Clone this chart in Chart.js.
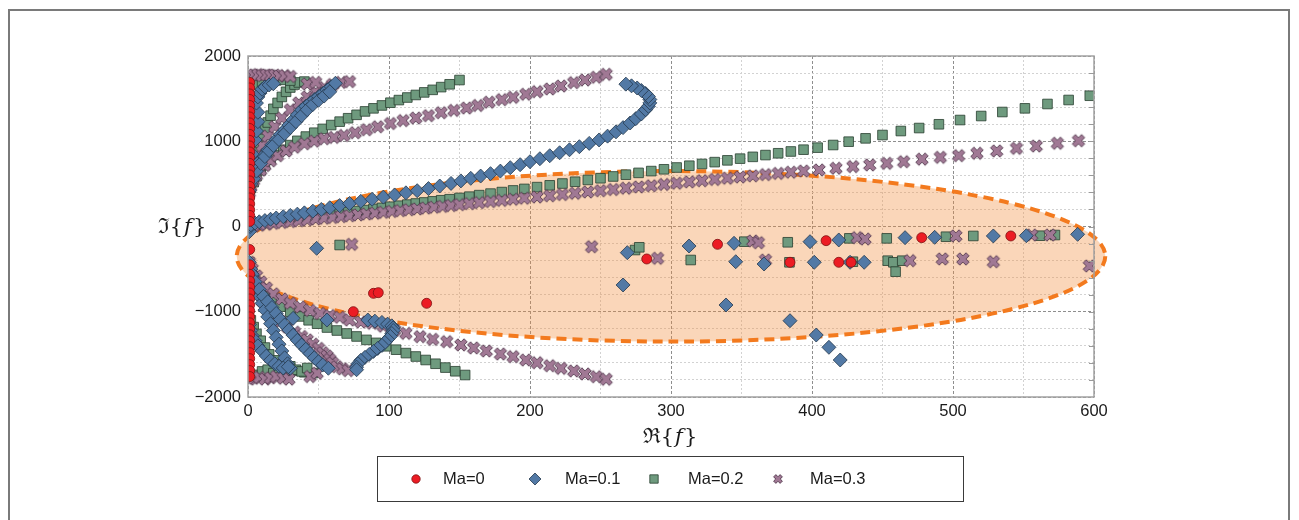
<!DOCTYPE html>
<html>
<head>
<meta charset="utf-8">
<script src="https://cdn.jsdelivr.net/npm/chart.js@4.4.1/dist/chart.umd.min.js"></script>
<style>
  html, body { margin: 0; padding: 0; background: #fff; overflow: hidden; }
  #wrap { position: relative; width: 1299px; height: 520px; }
  #frame { position: absolute; left: 8px; top: 9px; width: 1282px; height: 600px;
           border: 2px solid #7a7a7a; box-sizing: border-box; pointer-events: none; }
  #c { position: absolute; left: 0; top: 0; }
</style>
</head>
<body>
<div id="wrap">
  <div id="frame"></div>
  <canvas id="c" width="1299" height="520"></canvas>
</div>
<script>
// ---- eigenvalue data: [Re{f}, Im{f}] ----
const seriesNames = ['Ma=0', 'Ma=0.1', 'Ma=0.2', 'Ma=0.3'];
const xTickValues = [0, 100, 200, 300, 400, 500, 600];
const yTickValues = [-2000, -1000, 0, 1000, 2000];

// Ma = 0
const ma0Axis = [[1.2,1690],[1.2,1625],[1.2,1555],[1.2,1490],[1.2,1420],[1.2,1350],[1.2,1285],[1.2,1215],
  [1.2,1150],[1.2,1080],[1.2,1010],[1.2,945],[1.2,875],[1.2,810],[1.2,740],[1.2,670],[1.2,605],[1.2,535],
  [1.2,470],[1.2,400],[1.2,335],[1.2,265],[1.2,195],[1.2,130],[1.2,60],[1.2,-270],[1.2,-450],[1.2,-560],
  [1.2,-640],[1.2,-710],[1.2,-780],[1.2,-850],[1.2,-920],[1.2,-990],[1.2,-1060],[1.2,-1130],[1.2,-1200],
  [1.2,-1270],[1.2,-1340],[1.2,-1410],[1.2,-1480],[1.2,-1550],[1.2,-1620],[1.2,-1690],[1.2,-1760]];
const ma0Free = [[74.7,-999],[89,-784],[92.4,-776],[126.7,-901],[282.8,-381],[333,-209],[384.4,-420],
  [410,-166],[419,-420],[427.7,-420],[477.8,-131],[541,-111]];

// Ma = 0.1
const ma01BranchA = [[1,-60],[1.5,0],[2,20],[5,40],[8,55],[12,70],[16,85],[20,100],[25,115],[30,130],[35,145],
  [40,160],[46,180],[52,200],[58,220],[65,245],[72,270],[80,295],[88,320],[96,345],[104,370],[112,395],
  [120,420],[128,445],[136,475],[144,505],[151,535],[158,565],[165,592],[172,620],[179,650],[186,690],
  [193,725],[200,760],[207,795],[214,830],[221,865],[228,900],[235,936],[242,975],[249,1015],[255,1060],
  [261,1110],[266,1160],[271,1214],[275,1265],[279,1320],[282,1370],[284,1410],[285,1450],[285,1490],
  [284,1525],[282,1560],[279,1595],[276,1625],[272,1650],[268,1670]];
const ma01BranchB = [[1,420],[2,500],[3,580],[4,640],[6,700],[8,760],[11,830],[14,897],[17,960],[20,1020],
  [23,1080],[26,1132],[29,1190],[32,1250],[35,1310],[38,1367],[41,1410],[44,1450],[47,1490],[50,1523],
  [53,1560],[56,1600],[59,1640],[62,1680],[4,560],[6,650],[9,740],[12,820],[15,890],[18,950],[22,1020],
  [26,1090],[30,1160],[34,1230],[38,1300],[42,1370],[46,1430],[50,1480],[54,1530],[58,1580]];
const ma01BranchC = [[2,700],[3,850],[5,1015],[6,1120],[7,1230],[7,1340],[6,1448],[7,1520],[8.5,1565],
  [10,1610],[12,1636],[15,1660],[18,1675]];
const ma01Lower = [[1,-420],[2,-500],[3,-580],[4,-660],[6,-740],[8,-820],[10,-900],[12,-980],[14,-1060],
  [16,-1140],[18,-1220],[20,-1300],[22,-1380],[24,-1460],[26,-1540],[28,-1610],[30,-1663],
  [3,-560],[5,-647],[8,-740],[11,-820],[14,-882],[17,-950],[20,-1020],[23,-1090],[26,-1155],[29,-1215],
  [32,-1275],[35,-1335],[38,-1390],[41,-1440],[44,-1490],[47,-1540],[50,-1586],[53,-1625],[57,-1663],
  [1,-1150],[2,-1220],[3,-1280],[5,-1340],[7,-1400],[10,-1460],[13,-1520],[16,-1570],[19,-1610],
  [22,-1640],[25,-1660],[32,-1077],[56,-1097],[28.6,-1645]];
const ma01Hook = [[85,-1097],[90,-1110],[95,-1125],[99,-1145],[102,-1165],[103,-1190],[103,-1220],
  [102,-1255],[101,-1290],[99,-1325],[97,-1360],[95,-1395],[92,-1430],[89,-1465],[86,-1500],[83,-1535],
  [80,-1570],[78,-1610],[77,-1650],[77,-1680]];
const ma01Free = [[48.7,-256],[269,-307],[266,-686],[312.8,-229],[339,-921],[344.7,-197],[345.9,-413],
  [366,-440],[384.4,-1105],[398.6,-178],[401.6,-420],[403,-1273],[412,-1417],[420,-1566],[419,-158],
  [427,-420],[437,-420],[466,-131],[487,-127],[528.6,-111],[552,-108],[588.4,-92]];

// Ma = 0.2
const ma02BranchA = [[1,5],[3,12],[6,22],[9,32],[13,42],[17,52],[21,62],[26,72],[31,84],[36,95],[41,106],
  [47,118],[53,130],[59,142],[65,155],[71,168],[77,181],[83,193],[89,206],[95,219],[101,232],[107,244],
  [113,257],[119,270],[125,282],[131,295],[137,308],[143,320],[150,335],[157,350],[164,368],[172,386],
  [180,404],[188,423],[196,441],[205,462],[214,483],[223,504],[232,525],[241,546],[250,566],[259,587],
  [268,608],[277,629],[286,650],[295,671],[304,692],[313,713],[322,734],[331,755],[340,776],[349,796],
  [358,817],[367,838],[376,859],[385,880],[394,901],[404,925],[415,956],[426,995],[438,1034],[450,1073],
  [463,1120],[476,1155],[490,1199],[505,1249],[520,1296],[535,1343],[551,1386],[567,1437],[582,1484],
  [597,1534]];
const ma02BranchB = [[1,380],[2,450],[4,520],[6,590],[9,660],[12,720],[16,785],[20,840],[25,900],[30,955],
  [35,1005],[41,1055],[47,1100],[53,1145],[59,1190],[65,1230],[71,1270],[77,1310],[83,1350],[89,1386],
  [95,1420],[101,1452],[107,1483],[113,1513],[119,1543],[125,1573],[131,1603],[137,1635],[143,1668],
  [150,1718]];
const ma02BranchC = [[1,500],[2,580],[3,660],[4,740],[5,820],[6,900],[8,980],[10,1060],[12,1140],[14,1220],
  [16,1300],[18,1380],[21,1450],[24,1520],[27,1580],[30,1630],[33,1665],[36,1690],[5,1660],[10,1690],
  [15,1705],[20,1715],[25,1720],[30,1712],[40,1700]];
const ma02Lower = [[1,-420],[2,-500],[3,-580],[5,-660],[8,-745],[12,-820],[17,-880],[23,-940],[30,-1000],
  [37,-1055],[43,-1100],[49,-1140],[56,-1185],[63,-1220],[70,-1255],[77,-1290],[84,-1330],[91,-1365],
  [98,-1405],[105,-1445],[112,-1485],[119,-1525],[126,-1566],[133,-1610],[140,-1655],[147,-1698],
  [154,-1742],[2,-1100],[4,-1180],[6,-1260],[9,-1340],[12,-1420],[15,-1500],[19,-1570],[23,-1620],
  [28,-1660],[34,-1690],[40,-1710],[46,-1720],[2,-1760],[6,-1740],[10,-1700],[14,-1680],[18,-1720],
  [22,-1660],[26,-1700],[30,-1640],[34,-1680],[38,-1700],[42,-1660]];
const ma02Free = [[65,-217],[274.5,-276],[277.5,-244],[314,-393],[352,-178],[382.8,-185],[384,-420],
  [426.5,-139],[429,-413],[453,-139],[453.7,-401],[457.7,-420],[459.3,-530],[464,-401],[495,-120],
  [514.4,-111],[561.7,-108],[572.3,-100]];

// Ma = 0.3
const ma03BranchA = [[1,-10],[4,5],[8,15],[13,27],[18,37],[24,48],[30,58],[36,68],[42,78],[48,88],[54,97],
  [60,106],[66,116],[72,126],[78,136],[84,146],[90,156],[96,166],[102,176],[108,186],[114,196],[120,206],
  [126,216],[132,226],[138,236],[144,246],[150,256],[157,268],[164,280],[172,293],[180,306],[188,319],
  [196,332],[205,346],[214,360],[223,375],[232,390],[241,405],[250,420],[259,434],[268,449],[277,464],
  [286,478],[295,493],[304,508],[313,523],[322,537],[331,552],[340,566],[349,580],[358,594],[367,609],
  [376,623],[385,637],[394,651],[405,663],[417,683],[429,703],[441,722],[453,741],[465,760],[478,790],
  [491,811],[504,831],[517,859],[531,886],[545,917],[559,944],[574,976],[589,1006]];
const ma03BranchB = [[1,400],[2,470],[4,540],[6,600],[9,660],[12,715],[16,770],[21,830],[27,885],[33,930],
  [40,970],[47,1000],[54,1030],[61,1045],[68,1068],[76,1100],[84,1135],[92,1170],[101,1208],[110,1242],
  [119,1272],[128,1300],[137,1335],[146,1362],[155,1390],[163,1420],[171,1458],[180,1488],[188,1515],
  [197,1551],[205,1582],[214,1613],[222,1648],[231,1687],[239,1718],[247,1750],[254,1785]];
const ma03BranchC = [[3,700],[6,830],[10,950],[14,1060],[19,1170],[24,1270],[30,1370],[36,1450],[42,1520],
  [48,1580],[54,1630],[60,1665],[66,1690],[72,1700],[1,1770],[4,1778],[7,1782],[10,1770],[13,1778],
  [16,1770],[19,1776],[22,1765],[26,1770],[30,1760],[42,1672],[48,1690]];
const ma03Lower = [[1,-420],[3,-500],[6,-580],[9,-650],[13,-720],[18,-790],[24,-850],[30,-900],[37,-945],
  [44,-985],[51,-1020],[58,-1045],[65,-1065],[72,-1097],[80,-1120],[88,-1135],[96,-1170],[104,-1215],
  [112,-1253],[122,-1292],[131,-1324],[141,-1351],[151,-1390],[160,-1425],[169,-1460],[179,-1496],
  [188,-1527],[197,-1566],[205,-1598],[214,-1633],[222,-1664],[231,-1695],[239,-1730],[247,-1762],
  [254,-1792],[3,-650],[6,-760],[10,-870],[14,-960],[18,-1040],[23,-1110],[28,-1180],[33,-1240],
  [38,-1290],[42,-1330],[46,-1380],[50,-1430],[53,-1480],[56,-1520],[58,-1560],[60,-1600],[63,-1645],
  [67,-1670],[71,-1690],[1,-1790],[4,-1780],[8,-1770],[12,-1790],[16,-1775],[20,-1760],[25,-1780],
  [29,-1790],[44,-1760],[49,-1720]];
const ma03Free = [[73.5,-209],[243.7,-237],[290.5,-373],[358,-170],[362,-190],[367,-393],[432,-131],
  [437.6,-147],[469.5,-401],[492.4,-381],[507,-381],[528.6,-413],[502,-111],[555.8,-100],[568.8,-100],
  [596.7,-463]];

// ---- marker styles ----
const COLORS = {
  ma0:  { fill: '#EC1C24', edge: '#7d1212' },
  ma01: { fill: '#5279A5', edge: '#25384d' },
  ma02: { fill: '#6E9A7E', edge: '#283f30' },
  ma03: { fill: '#A07894', edge: '#4a3046' }
};

function makeCross(size, half, thick, fill, edge) {
  const cv = document.createElement('canvas');
  cv.width = size; cv.height = size;
  const g = cv.getContext('2d');
  g.translate(size / 2, size / 2);
  g.rotate(Math.PI / 4);
  const L = half, t = thick;
  const pts = [[t,L],[t,t],[L,t],[L,-t],[t,-t],[t,-L],[-t,-L],[-t,-t],[-L,-t],[-L,t],[-t,t],[-t,L]];
  g.beginPath();
  pts.forEach((p, i) => i ? g.lineTo(p[0], p[1]) : g.moveTo(p[0], p[1]));
  g.closePath();
  g.fillStyle = fill; g.fill();
  g.lineWidth = 0.8; g.strokeStyle = edge; g.stroke();
  return cv;
}
const crossMark = makeCross(16, 6.6, 2.2, COLORS.ma03.fill, COLORS.ma03.edge);
const crossLegend = makeCross(12, 4.6, 1.6, COLORS.ma03.fill, COLORS.ma03.edge);

const toXY = arrs => arrs.flat().map(([x, y]) => ({ x, y }));

// ---- ellipse marking the low-frequency region (data units) ----
const regionEllipse = { cx: 300, cy: -350, rx: 308, ry: 1000 };

const ellipsePlugin = {
  id: 'regionEllipse',
  beforeDatasetsDraw(chart) {
    const { ctx, scales: { x, y } } = chart;
    const cx = x.getPixelForValue(regionEllipse.cx);
    const cy = y.getPixelForValue(regionEllipse.cy);
    const rx = x.getPixelForValue(regionEllipse.cx + regionEllipse.rx) - cx;
    const ry = cy - y.getPixelForValue(regionEllipse.cy + regionEllipse.ry);
    ctx.save();
    ctx.beginPath();
    ctx.ellipse(cx, cy, rx, ry, 0, 0, Math.PI * 2);
    ctx.fillStyle = 'rgba(240,140,60,0.36)';
    ctx.fill();
    ctx.setLineDash([10, 6]);
    ctx.lineWidth = 4;
    ctx.strokeStyle = '#F37A1E';
    ctx.stroke();
    ctx.restore();
  }
};

const framePlugin = {
  id: 'plotFrame',
  afterDatasetsDraw(chart) {
    const { ctx, chartArea: a, scales: { y } } = chart;
    ctx.save();
    ctx.strokeStyle = '#a2a2a2';
    ctx.lineWidth = 1.5;
    ctx.strokeRect(a.left, a.top, a.right - a.left, a.bottom - a.top);
    ctx.lineWidth = 1;
    ctx.strokeStyle = '#9a9a9a';
    for (let v = -1800; v <= 1800; v += 200) {
      const py = Math.round(y.getPixelForValue(v)) + 0.5;
      ctx.beginPath();
      ctx.moveTo(a.right, py);
      ctx.lineTo(a.right - 5, py);
      ctx.stroke();
    }
    ctx.restore();
  }
};

function drawMathLabel(ctx, parts, cx, cy) {
  // parts: [text, italic]
  const base = "21px 'DejaVu Serif', 'Liberation Serif', serif";
  const ital = "italic 21px 'DejaVu Serif', 'Liberation Serif', serif";
  let w = 0;
  parts.forEach(([t, it]) => { ctx.font = it ? ital : base; w += ctx.measureText(t).width + (it ? 2 : 0); });
  let xx = cx - w / 2;
  ctx.textBaseline = 'middle';
  ctx.textAlign = 'left';
  parts.forEach(([t, it]) => {
    ctx.font = it ? ital : base;
    ctx.fillText(t, xx + (it ? 1 : 0), cy);
    xx += ctx.measureText(t).width + (it ? 2 : 0);
  });
}

const legendItems = [
  { text: seriesNames[0], mark: 'circle', markX: 416, textX: 443 },
  { text: seriesNames[1], mark: 'diamond', markX: 535, textX: 565 },
  { text: seriesNames[2], mark: 'square', markX: 654, textX: 688 },
  { text: seriesNames[3], mark: 'cross', markX: 778, textX: 810 }
];

const annotatePlugin = {
  id: 'annotate',
  afterDraw(chart) {
    const { ctx } = chart;
    ctx.save();
    ctx.fillStyle = '#1a1a1a';
    drawMathLabel(ctx, [['\u2111{', false], ['f', true], ['}', false]], 182, 228);
    drawMathLabel(ctx, [['\u211C{', false], ['f', true], ['}', false]], 670, 438);

    // legend box
    ctx.strokeStyle = '#3a3a3a';
    ctx.lineWidth = 1;
    ctx.strokeRect(377.5, 456.5, 586, 45);
    const ly = 479;
    legendItems.forEach(it => {
      ctx.lineWidth = 0.8;
      if (it.mark === 'circle') {
        ctx.beginPath(); ctx.arc(it.markX, ly, 4.2, 0, Math.PI * 2);
        ctx.fillStyle = COLORS.ma0.fill; ctx.fill();
        ctx.strokeStyle = COLORS.ma0.edge; ctx.stroke();
      } else if (it.mark === 'diamond') {
        ctx.beginPath();
        ctx.moveTo(it.markX, ly - 6); ctx.lineTo(it.markX + 6, ly);
        ctx.lineTo(it.markX, ly + 6); ctx.lineTo(it.markX - 6, ly); ctx.closePath();
        ctx.fillStyle = COLORS.ma01.fill; ctx.fill();
        ctx.strokeStyle = COLORS.ma01.edge; ctx.stroke();
      } else if (it.mark === 'square') {
        ctx.beginPath(); ctx.rect(it.markX - 4.2, ly - 4.2, 8.4, 8.4);
        ctx.fillStyle = COLORS.ma02.fill; ctx.fill();
        ctx.strokeStyle = COLORS.ma02.edge; ctx.stroke();
      } else {
        ctx.drawImage(crossLegend, it.markX - 6, ly - 6);
      }
      ctx.fillStyle = '#1a1a1a';
      ctx.font = "16.5px 'Liberation Sans', Arial, sans-serif";
      ctx.textBaseline = 'middle';
      ctx.textAlign = 'left';
      ctx.fillText(it.text, it.textX, ly);
    });
    ctx.restore();
  }
};

const gridColor = c => (c.tick && c.tick.major) ? '#8e8e8e' : '#d2d2d2';

new Chart(document.getElementById('c'), {
  type: 'scatter',
  data: {
    datasets: [
      { label: seriesNames[0], data: toXY([ma0Axis, ma0Free]), pointStyle: 'circle', pointRadius: 5,
        backgroundColor: COLORS.ma0.fill, borderColor: COLORS.ma0.edge, borderWidth: 0.8, order: 0, clip: 0 },
      { label: seriesNames[1], data: toXY([ma01BranchA, ma01BranchB, ma01BranchC, ma01Lower, ma01Hook, ma01Free]),
        pointStyle: 'rectRot', pointRadius: 7, backgroundColor: COLORS.ma01.fill, borderColor: COLORS.ma01.edge,
        borderWidth: 0.8, order: 1, clip: 0 },
      { label: seriesNames[3], data: toXY([ma03BranchA, ma03BranchB, ma03BranchC, ma03Lower, ma03Free]),
        pointStyle: crossMark, pointRadius: 7, backgroundColor: COLORS.ma03.fill, borderColor: COLORS.ma03.edge,
        order: 2, clip: 0 },
      { label: seriesNames[2], data: toXY([ma02BranchA, ma02BranchB, ma02BranchC, ma02Lower, ma02Free]),
        pointStyle: 'rect', pointRadius: 6.8, backgroundColor: COLORS.ma02.fill, borderColor: COLORS.ma02.edge,
        borderWidth: 0.8, order: 3, clip: 0 }
    ]
  },
  options: {
    responsive: false,
    animation: false,
    events: [],
    layout: { padding: { left: 188, right: 205, top: 56, bottom: 93 } },
    plugins: { legend: { display: false }, tooltip: { enabled: false } },
    scales: {
      x: {
        type: 'linear', min: 0, max: 600,
        afterFit: s => { s.height = 30; },
        afterBuildTicks: s => { s.ticks.forEach(t => { t.major = xTickValues.includes(t.value); }); },
        ticks: {
          stepSize: 50, autoSkip: false, maxRotation: 0, padding: 5, color: '#1a1a1a',
          font: { family: "'Liberation Sans', Arial, sans-serif", size: 16.5 },
          callback: v => xTickValues.includes(v) ? String(v) : ''
        },
        grid: { color: gridColor, lineWidth: 1, drawTicks: false },
        border: { display: false, dash: c => (c.tick && c.tick.major) ? [3, 2] : [2, 2] }
      },
      y: {
        type: 'linear', min: -2000, max: 2000,
        afterFit: s => { s.width = 60; },
        afterBuildTicks: s => { s.ticks.forEach(t => { t.major = yTickValues.includes(t.value); }); },
        ticks: {
          stepSize: 200, autoSkip: false, padding: 7, color: '#1a1a1a',
          font: { family: "'Liberation Sans', Arial, sans-serif", size: 16.5 },
          callback: v => yTickValues.includes(v) ? (v < 0 ? '\u2212' + Math.abs(v) : String(v)) : ''
        },
        grid: { color: gridColor, lineWidth: 1, drawTicks: false },
        border: { display: false, dash: c => (c.tick && c.tick.major) ? [3, 2] : [2, 2] }
      }
    }
  },
  plugins: [ellipsePlugin, framePlugin, annotatePlugin]
});
</script>
</body>
</html>
